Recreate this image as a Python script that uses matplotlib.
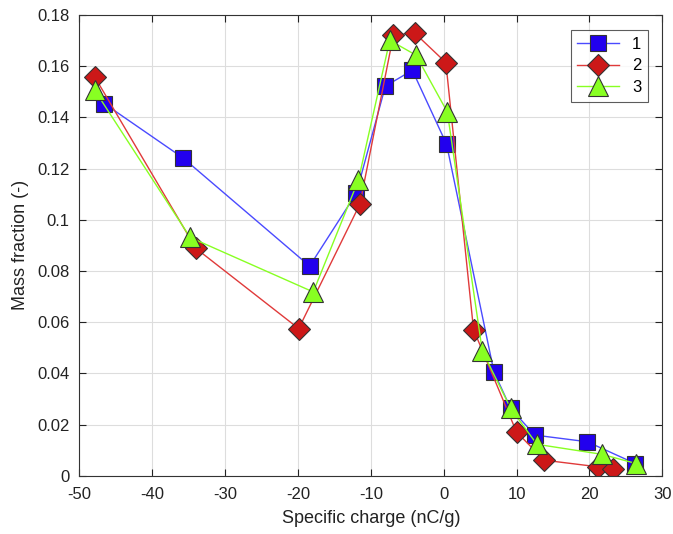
import matplotlib.pyplot as plt

# series
x1 = [-46.6, -35.8, -18.4, -12.0, -8.0, -4.3, 0.4, 6.9, 9.2, 12.5, 19.7, 26.3]
y1 = [0.1454, 0.1242, 0.0819, 0.1103, 0.1522, 0.1584, 0.1295, 0.0406, 0.0263, 0.0159, 0.0133, 0.0048]

x2 = [-47.9, -34.0, -19.9, -11.5, -6.9, -4.0, 0.3, 4.1, 10.0, 13.8, 21.2, 23.2]
y2 = [0.1558, 0.0888, 0.0575, 0.1061, 0.1721, 0.1730, 0.1614, 0.0571, 0.0171, 0.0061, 0.0035, 0.0025]

x3 = [-47.9, -34.8, -17.9, -11.7, -7.4, -3.8, 0.5, 5.3, 9.2, 12.8, 21.7, 26.4]
y3 = [0.1506, 0.0931, 0.0718, 0.1155, 0.1701, 0.1643, 0.1421, 0.0488, 0.0263, 0.0123, 0.0084, 0.0048]

labels = ['1', '2', '3']

plt.rcParams['font.family'] = ['Liberation Sans', 'DejaVu Sans']
plt.rcParams['axes.unicode_minus'] = False

fig = plt.figure(figsize=(6.73, 5.34), dpi=100)
ax = fig.add_axes([0.118, 0.109, 0.866, 0.863])

ax.plot(x1, y1, '-s', color='#4a4aff', lw=1, mfc='#2200ee', mec='#333333', mew=0.8, ms=11, label=labels[0])
ax.plot(x2, y2, '-D', color='#e03a3a', lw=1, mfc='#cc1818', mec='#333333', mew=0.8, ms=11, label=labels[1])
ax.plot(x3, y3, '-^', color='#88ff22', lw=1, mfc='#88ff22', mec='#333333', mew=0.8, ms=14, label=labels[2])

ax.set_xlim(-50, 30)
ax.set_ylim(0, 0.18)
ax.set_xticks(range(-50, 31, 10))
ax.set_yticks([0, 0.02, 0.04, 0.06, 0.08, 0.1, 0.12, 0.14, 0.16, 0.18])
ax.set_yticklabels(['0', '0.02', '0.04', '0.06', '0.08', '0.1', '0.12', '0.14', '0.16', '0.18'])
ax.grid(True, color='#dddddd', lw=0.8)
ax.set_axisbelow(True)
ax.tick_params(direction='in', top=True, right=True, labelsize=12, colors='#222222', length=5)
ax.tick_params(axis='x', pad=8)
ax.tick_params(axis='y', pad=7)
for s in ax.spines.values():
    s.set_color('#333333')
    s.set_linewidth(0.8)

ax.set_xlabel('Specific charge (nC/g)', fontsize=13, color='#222222', labelpad=6)
ax.set_ylabel('Mass fraction (-)', fontsize=13, color='#222222', labelpad=6)

leg = ax.legend(loc='upper right', fontsize=12, fancybox=False, edgecolor='#333333',
                handlelength=2.5, borderpad=0.4, labelspacing=0.4, borderaxespad=0,
                bbox_to_anchor=(0.976, 0.967))
leg.get_frame().set_linewidth(0.8)

fig.savefig('out.png', dpi=100)
